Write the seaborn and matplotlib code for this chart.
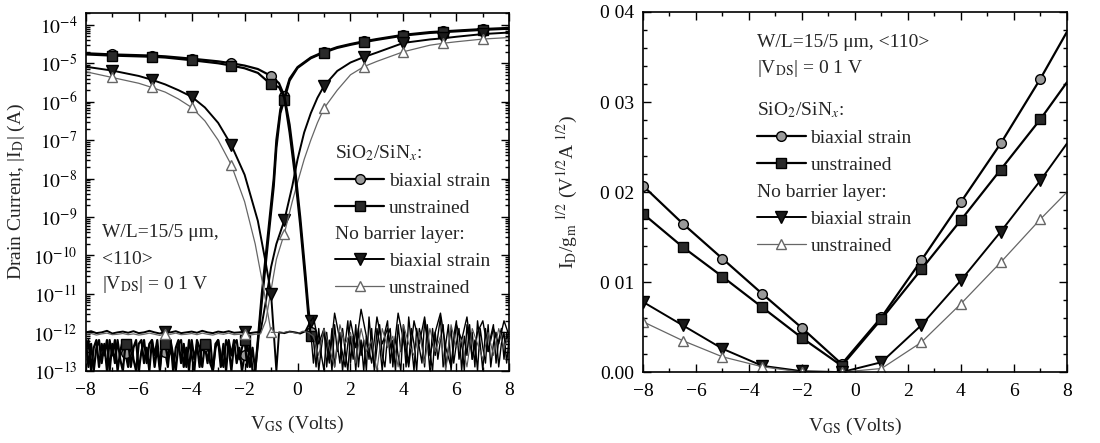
import numpy as np
import matplotlib
matplotlib.use("Agg")
import matplotlib.pyplot as plt
import seaborn as sns
from matplotlib.lines import Line2D
from matplotlib.transforms import Affine2D
from matplotlib.ticker import FixedLocator, FixedFormatter, MultipleLocator, LogLocator, NullFormatter

# ---------------- data: left panel (log10 of |I_D| in A) ----------------
# p-branch (on at negative V_GS)
p_sio_bs_x = [-8, -7, -6, -5.5, -5, -4, -3, -2.5, -2, -1.5, -1, -0.7, -0.5, -0.3, -0.1, 0.1, 0.3, 0.4, 0.5]
p_sio_bs_y = [-4.74, -4.77, -4.79, -4.80, -4.82, -4.88, -4.95, -5.0, -5.06, -5.15, -5.33, -5.52, -5.85, -6.6, -7.7, -9.0, -10.5, -11.3, -12.0]
p_sio_un_x = [-8, -7, -6, -5.5, -5, -4, -3, -2.5, -2, -1.5, -1, -0.7, -0.5, -0.3, -0.1, 0.1, 0.3, 0.4, 0.5]
p_sio_un_y = [-4.77, -4.80, -4.82, -4.83, -4.85, -4.92, -5.0, -5.06, -5.13, -5.25, -5.55, -5.62, -5.9, -6.8, -7.9, -9.2, -10.7, -11.5, -12.1]
p_nb_bs_x = [-8, -7, -6, -5.5, -5, -4.5, -4, -3.5, -3, -2.5, -2, -1.5, -1.2, -1.0, -0.9, -0.8, -0.7, -0.5, -0.3, -0.1, 0.1, 0.3, 0.5]
p_nb_bs_y = [-5.09, -5.19, -5.33, -5.43, -5.55, -5.70, -5.87, -6.15, -6.55, -7.13, -7.9, -9.1, -10.2, -11.0, -12.0, -13.0, -12.0, -12.02, -11.98, -12.0, -12.03, -11.97, -11.7]
p_nb_un_x = [-8, -7, -6, -5.5, -5, -4.5, -4, -3.5, -3, -2.5, -2, -1.6, -1.3, -1.1, -1.0]
p_nb_un_y = [-5.22, -5.37, -5.52, -5.63, -5.75, -5.93, -6.15, -6.5, -7.0, -7.65, -8.6, -9.7, -10.8, -11.6, -12.0]

# n-branch (on at positive V_GS)
n_sio_bs_x = [-1.6, -1.5, -1.35, -1.2, -1.05, -0.9, -0.8, -0.65, -0.5, -0.3, 0, 0.5, 1, 1.5, 2, 2.5, 3, 4, 5, 5.5, 6, 7, 8]
n_sio_bs_y = [-13.0, -12.2, -11.0, -10.0, -9.0, -8.0, -7.0, -6.2, -5.85, -5.4, -5.1, -4.85, -4.70, -4.58, -4.5, -4.43, -4.37, -4.26, -4.19, -4.17, -4.15, -4.11, -4.08]
n_sio_un_x = [-1.6, -1.5, -1.35, -1.2, -1.05, -0.9, -0.8, -0.65, -0.5, -0.3, 0, 0.5, 1, 1.5, 2, 2.5, 3, 4, 5, 5.5, 6, 7, 8]
n_sio_un_y = [-13.0, -12.3, -11.2, -10.2, -9.2, -8.2, -7.2, -6.3, -5.95, -5.45, -5.12, -4.87, -4.72, -4.6, -4.52, -4.45, -4.39, -4.28, -4.21, -4.19, -4.17, -4.13, -4.10]
n_nb_bs_x = [-1.2, -1.0, -0.8, -0.5, -0.2, 0, 0.25, 0.5, 0.75, 1, 1.5, 2, 2.5, 3, 4, 5, 5.5, 6, 7, 8]
n_nb_bs_y = [-11.2, -10.3, -9.7, -9.09, -8.2, -7.5, -6.8, -6.3, -5.9, -5.59, -5.2, -4.98, -4.84, -4.72, -4.47, -4.38, -4.35, -4.31, -4.24, -4.20]
n_nb_un_x = [-1.2, -1.0, -0.8, -0.5, -0.2, 0, 0.25, 0.5, 0.75, 1, 1.5, 2, 2.5, 3, 4, 5, 5.5, 6, 7, 8]
n_nb_un_y = [-11.7, -10.9, -10.1, -9.43, -8.6, -8.1, -7.5, -7.0, -6.55, -6.17, -5.7, -5.3, -5.09, -4.95, -4.70, -4.53, -4.48, -4.44, -4.37, -4.33]

# noise floor traces (log10 A)
noise_left_x = np.round(np.arange(-8.0, -1.65, 0.1), 2)
noise_left_a = [-12.2, -12.9, -12.3, -13.0, -12.4, -12.2, -12.8, -12.3, -13.0, -12.2,
                -12.6, -12.2, -13.0, -12.5, -12.2, -12.55, -12.9, -12.2, -12.7, -13.0,
                -12.3, -12.2, -12.8, -12.4, -13.0, -12.2, -12.6, -12.2, -12.9, -12.3,
                -12.5, -12.9, -12.2, -12.6, -13.0, -12.3, -12.2, -12.9, -12.4, -13.0,
                -12.2, -12.7, -12.3, -12.9, -12.2, -12.35, -12.8, -12.2, -13.0, -12.4,
                -12.2, -12.9, -12.3, -13.0, -12.2, -12.6, -12.2, -12.8, -12.4, -13.0,
                -12.6, -12.3, -12.9, -12.4]
noise_left_b = [-12.5, -12.2, -13.0, -12.4, -12.2, -12.9, -12.3, -12.6, -12.2, -13.0,
                -12.3, -12.8, -12.2, -12.7, -13.0, -12.3, -12.2, -12.9, -12.4, -12.2,
                -13.0, -12.5, -12.2, -12.8, -12.3, -12.2, -12.9, -12.4, -13.0, -12.2,
                -12.3, -12.7, -12.2, -13.0, -12.4, -12.2, -12.8, -12.3, -12.9, -12.2,
                -12.6, -13.0, -12.2, -12.4, -12.9, -12.3, -12.2, -12.8, -13.0, -12.3,
                -12.2, -12.6, -12.9, -12.2, -12.4, -13.0, -12.3, -12.2, -12.7, -12.4,
                -12.2, -12.9, -12.3, -13.0]
floor_left_x = np.round(np.arange(-8.0, -1.35, 0.2), 2)
floor_left_a = [-12.0, -11.97, -12.02, -12.0, -11.96, -12.03, -12.0, -11.98, -12.01, -11.97,
                -12.02, -12.0, -11.96, -12.0, -12.03, -11.98, -12.0, -11.97, -12.02, -12.0,
                -11.98, -12.01, -11.96, -12.0, -12.02, -11.98, -12.0, -11.97, -12.01, -12.0,
                -11.98, -12.02, -12.0, -11.99]
floor_left_b = [-12.05, -12.03, -12.07, -12.04, -12.02, -12.06, -12.05, -12.03, -12.06, -12.04,
                -12.07, -12.05, -12.02, -12.05, -12.08, -12.03, -12.05, -12.02, -12.06, -12.05,
                -12.03, -12.06, -12.02, -12.05, -12.07, -12.03, -12.05, -12.02, -12.06, -12.05,
                -12.03, -12.07, -12.05, -12.04]
noise_right_x = np.round(np.arange(0.6, 8.05, 0.1), 2)
noise_right_a = [-12.8, -12.1, -13.0, -12.4, -11.9, -12.9, -12.2, -13.0, -11.8, -12.5,
                 -12.0, -13.0, -12.3, -11.7, -12.8, -12.1, -13.0, -11.9, -12.6, -12.2,
                 -13.0, -11.6, -12.4, -12.9, -11.9, -12.3, -13.0, -12.0, -11.7, -12.8,
                 -12.2, -13.0, -11.8, -12.5, -12.0, -12.9, -11.6, -12.3, -13.0, -11.9,
                 -12.4, -12.8, -11.7, -12.2, -13.0, -11.9, -12.6, -12.1, -11.6, -12.9,
                 -12.3, -11.8, -13.0, -12.1, -11.7, -12.7, -12.2, -13.0, -11.8, -12.4,
                 -12.0, -12.9, -11.7, -12.3, -13.0, -11.9, -12.5, -12.1, -11.8, -12.8,
                 -12.2, -11.9, -12.7, -12.0, -12.4]
noise_right_b = [-12.2, -12.9, -11.9, -12.6, -13.0, -12.0, -12.7, -11.9, -12.9, -12.3,
                 -12.8, -11.9, -12.5, -13.0, -12.1, -12.7, -11.8, -12.9, -12.2, -13.0,
                 -12.1, -12.7, -11.9, -13.0, -12.4, -11.8, -12.6, -12.9, -12.1, -11.9,
                 -12.9, -12.1, -12.6, -13.0, -11.8, -12.4, -12.8, -11.9, -12.3, -13.0,
                 -11.9, -12.2, -12.9, -11.8, -12.5, -13.0, -12.0, -12.7, -12.2, -11.8,
                 -12.9, -12.4, -11.9, -12.8, -12.3, -11.9, -13.0, -12.1, -12.6, -11.8,
                 -12.7, -12.2, -13.0, -11.9, -12.4, -12.8, -11.8, -12.9, -12.3, -12.0,
                 -12.9, -12.3, -12.0, -12.8, -12.1]
noise_right_c_x = np.round(np.arange(0.6, 8.05, 0.2), 2)
noise_right_c = [-11.6, -12.3, -11.9, -12.8, -11.5, -12.2, -12.9, -11.7, -12.4, -11.4,
                 -12.1, -12.8, -11.6, -12.3, -11.9, -12.7, -11.5, -12.2, -12.9, -11.7,
                 -12.3, -11.6, -12.6, -12.0, -11.5, -12.4, -12.9, -11.8, -12.2, -11.6,
                 -12.7, -12.0, -11.7, -12.5, -11.9, -12.3, -11.7, -12.1]
noise_right_d_x = np.round(np.arange(-0.8, 8.05, 0.2), 2)
noise_right_d = [-12.0, -12.02, -11.98, -12.0, -12.03, -11.97, -12.0, -12.1, -12.6, -11.9,
                 -12.4, -12.9, -11.8, -12.3, -12.0, -12.8, -11.9, -12.5, -12.2, -13.0,
                 -11.9, -12.4, -12.1, -12.9, -11.8, -12.3, -12.6, -12.0, -12.8, -11.9,
                 -12.5, -12.1, -13.0, -11.8, -12.4, -12.2, -12.9, -11.9, -12.3, -12.7,
                 -12.0, -12.6, -11.9, -12.4, -12.1]

p_marks = [-7, -5.5, -4, -2.5, -1, 0.5]
n_marks = [-6.5, -5, -3.5, -2, -0.5, 1, 2.5, 4, 5.5, 7]
log_ticks = [-13, -12, -11, -10, -9, -8, -7, -6, -5, -4]
x_ticks = [-8, -6, -4, -2, 0, 2, 4, 6, 8]

# ---------------- data: right panel ----------------
r_x = [-8, -6.5, -5, -3.5, -2, -0.5, 1, 2.5, 4, 5.5, 7, 8]
r_sio_bs = [0.0207, 0.0165, 0.0126, 0.0087, 0.0049, 0.0009, 0.0061, 0.0124, 0.0189, 0.0254, 0.0326, 0.0378]
r_sio_un = [0.0176, 0.0139, 0.0106, 0.0072, 0.0038, 0.0007, 0.0059, 0.0114, 0.0169, 0.0225, 0.0281, 0.0322]
r_nb_bs = [0.0078, 0.0052, 0.0026, 0.0007, 0.0001, 0.0000, 0.0011, 0.0052, 0.0102, 0.0156, 0.0213, 0.0254]
r_nb_un = [0.0056, 0.0035, 0.0017, 0.0006, 0.0000, 0.0000, 0.0004, 0.0033, 0.0076, 0.0122, 0.0170, 0.0200]
r_marks = [-8, -6.5, -5, -3.5, -2, -0.5, 1, 2.5, 4, 5.5, 7]
r_yticks = [0.0, 0.01, 0.02, 0.03, 0.04]
r_yticklabels = ["0.00", "0 01", "0 02", "0 03", "0 04"]

labels = ["SiO$_2$/SiN$_x$:", "biaxial strain", "unstrained",
          "No barrier layer:", "biaxial strain", "unstrained"]

# ---------------- styles ----------------
ST = {
    "sio_bs": dict(color="black", lw=1.6, marker="o", ms=7, mfc="#9a9a9a", mec="black", mew=1.0),
    "sio_un": dict(color="black", lw=1.6, marker="s", ms=6.5, mfc="#2a2a2a", mec="black", mew=1.0),
    "nb_bs": dict(color="black", lw=1.4, marker="v", ms=8, mfc="#1a1a1a", mec="black", mew=1.0),
    "nb_un": dict(color="#666666", lw=0.9, marker="^", ms=7.5, mfc="white", mec="#666666", mew=1.0),
}

sns.set_theme(style="ticks")
plt.rcParams["font.family"] = ["Liberation Serif", "DejaVu Serif"]
plt.rcParams["mathtext.fontset"] = "stix"
plt.rcParams["axes.linewidth"] = 1.2

FS = 14
fig = plt.figure(figsize=(11, 4.43), dpi=100)
ax1 = fig.add_axes([0.078, 0.163, 0.385, 0.808])
ax2 = fig.add_axes([0.5845, 0.160, 0.3855, 0.813])


def draw(ax, x, y, st, marks, logy=False):
    x = np.asarray(x, dtype=float)
    y = np.asarray(y, dtype=float)
    if logy:
        y = 10.0 ** y
    idx = [i for i, v in enumerate(x) if np.any(np.isclose(v, marks))]
    sns.lineplot(x=x, y=y, ax=ax, estimator=None, sort=False, legend=False,
                 markevery=idx if idx else None, **st)


# ---------------- left panel ----------------
ax1.set_yscale("log")
plain_k = dict(color="black", lw=1.0, marker=None)
plain_g = dict(color="#555555", lw=0.8, marker=None)

# n-branches with their floors
draw(ax1, list(noise_left_x) + n_sio_bs_x, noise_left_a + n_sio_bs_y, ST["sio_bs"], n_marks, logy=True)
draw(ax1, list(noise_left_x) + n_sio_un_x, noise_left_b + n_sio_un_y, ST["sio_un"], n_marks, logy=True)
draw(ax1, list(floor_left_x) + n_nb_bs_x, floor_left_a + n_nb_bs_y, ST["nb_bs"], n_marks, logy=True)
draw(ax1, list(floor_left_x) + n_nb_un_x, floor_left_b + n_nb_un_y, ST["nb_un"], n_marks, logy=True)
# p-branches with their floors
draw(ax1, p_sio_bs_x, p_sio_bs_y, ST["sio_bs"], p_marks, logy=True)
draw(ax1, p_sio_un_x, p_sio_un_y, ST["sio_un"], p_marks, logy=True)
draw(ax1, p_nb_bs_x, p_nb_bs_y, ST["nb_bs"], p_marks, logy=True)
draw(ax1, p_nb_un_x, p_nb_un_y, ST["nb_un"], p_marks, logy=True)
draw(ax1, [p_sio_bs_x[-1]] + list(noise_right_x), [p_sio_bs_y[-1]] + noise_right_a, plain_k, [], logy=True)
draw(ax1, [p_sio_un_x[-1]] + list(noise_right_x), [p_sio_un_y[-1]] + noise_right_b, plain_k, [], logy=True)
draw(ax1, [p_nb_bs_x[-1]] + list(noise_right_c_x), [p_nb_bs_y[-1]] + noise_right_c, plain_k, [], logy=True)
draw(ax1, [p_nb_un_x[-1]] + list(noise_right_d_x), [p_nb_un_y[-1]] + noise_right_d, plain_g, [], logy=True)

ax1.set_xlim(-8, 8)
ax1.set_ylim(1e-13, 2.05e-4)
ax1.yaxis.set_major_locator(FixedLocator([10.0 ** e for e in log_ticks]))
ax1.yaxis.set_major_formatter(FixedFormatter(["$10^{%d}$" % e for e in log_ticks]))
ax1.yaxis.set_minor_locator(LogLocator(base=10, subs=np.arange(2, 10), numticks=40))
ax1.yaxis.set_minor_formatter(NullFormatter())
ax1.xaxis.set_major_locator(FixedLocator(x_ticks))
ax1.xaxis.set_minor_locator(MultipleLocator(1))
ax1.set_xlabel("V$_\\mathrm{GS}$ (Volts)", fontsize=FS, labelpad=11)
ax1.set_ylabel("Drain Current, |I$_\\mathrm{D}$| (A)", fontsize=FS, labelpad=4)

ax1.text(0.038, 0.385, "W/L=15/5 μm,", transform=ax1.transAxes, fontsize=FS, va="center", ha="left")
ax1.text(0.038, 0.31, "<110>", transform=ax1.transAxes, fontsize=FS, va="center", ha="left")
ax1.text(0.038, 0.24, "|V$_\\mathrm{DS}$| = 0 1 V", transform=ax1.transAxes, fontsize=FS, va="center", ha="left")

# ---------------- right panel ----------------
draw(ax2, r_x, r_sio_bs, ST["sio_bs"], r_marks)
draw(ax2, r_x, r_sio_un, ST["sio_un"], r_marks)
draw(ax2, r_x, r_nb_bs, ST["nb_bs"], r_marks)
draw(ax2, r_x, r_nb_un, ST["nb_un"], r_marks)
ax2.set_xlim(-8, 8)
ax2.set_ylim(0, 0.04)
ax2.yaxis.set_major_locator(FixedLocator(r_yticks))
ax2.yaxis.set_major_formatter(FixedFormatter(r_yticklabels))
ax2.yaxis.set_minor_locator(MultipleLocator(0.002))
ax2.xaxis.set_major_locator(FixedLocator(x_ticks))
ax2.xaxis.set_minor_locator(MultipleLocator(1))
ax2.set_xlabel("V$_\\mathrm{GS}$ (Volts)", fontsize=FS, labelpad=11)
ax2.set_ylabel("I$_\\mathrm{D}$/g$_\\mathrm{m}$$^{\\ 1/2}$ (V$^{1/2}$A$^{\\ 1/2}$)", fontsize=FS, labelpad=15)
ax2.text(0.27, 0.914, "W/L=15/5 μm, <110>", transform=ax2.transAxes, fontsize=FS, va="center", ha="left")
ax2.text(0.27, 0.844, "|V$_\\mathrm{DS}$| = 0 1 V", transform=ax2.transAxes, fontsize=FS, va="center", ha="left")

for ax in (ax1, ax2):
    ax.tick_params(which="both", direction="in", top=True, right=True, width=1.0,
                   labelsize=FS, colors="black")
    ax.tick_params(which="major", length=6)
    ax.tick_params(which="minor", length=3)
    ax.tick_params(axis="x", which="major", pad=8)
    ax.tick_params(axis="y", which="major", pad=6)
    for s in ax.spines.values():
        s.set_color("black")
        s.set_linewidth(1.2)


def make_legend(ax, anchor, spacing):
    blank = Line2D([], [], linestyle="none")
    hs = [blank,
          Line2D([], [], **ST["sio_bs"]), Line2D([], [], **ST["sio_un"]),
          blank,
          Line2D([], [], **ST["nb_bs"]), Line2D([], [], **ST["nb_un"])]
    hl, hp = 2.5, 0.25
    leg = ax.legend(hs, labels, loc="upper left", bbox_to_anchor=anchor, frameon=False,
                    fontsize=FS, handlelength=hl, handletextpad=hp, labelspacing=spacing,
                    borderpad=0, borderaxespad=0, numpoints=1)
    dx = (hl + hp) * FS * fig.dpi / 72.0
    for i in (0, 3):
        t = leg.get_texts()[i]
        t.set_transform(t.get_transform() + Affine2D().translate(-dx, 0))
    return leg


make_legend(ax1, (0.589, 0.635), 0.47)
make_legend(ax2, (0.269, 0.754), 0.48)

fig.savefig("out.png", dpi=100)
